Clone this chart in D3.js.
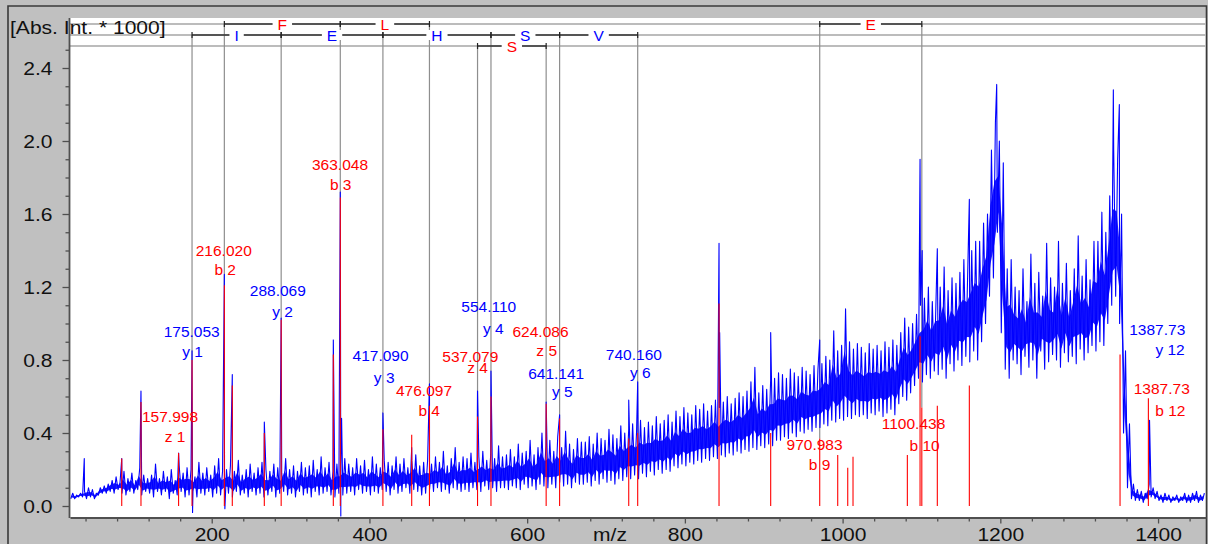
<!DOCTYPE html>
<html>
<head>
<meta charset="utf-8">
<script src="https://cdn.jsdelivr.net/npm/d3@7"></script>
<style>
html, body { margin: 0; padding: 0; background: #c0c0c0; }
svg { display: block; }
text { font-family: "Liberation Sans", Arial, sans-serif; }
</style>
</head>
<body>
<div id="chart"></div>
<script>
// ---- data ----
// profile trace, read as low / high envelope per 5 m/z bin starting at m/z 20
const traceStart = 20, traceStep = 5;
const traceLow = [
  0.04,0.04,0.05,0.05,0.04,0.05,0.04,0.06,0.07,0.07,
  0.08,0.07,0.09,0.07,0.06,0.08,0.07,0.09,0.06,0.08,
  0.07,0.05,0.08,0.06,0.08,0.04,0.07,0.06,0.08,0.05,
  0.06,0.08,0.05,0.07,0.06,0.08,0.05,0.07,0.06,0.08,
  0.07,0.05,0.08,0.06,0.07,0.05,0.08,0.06,0.07,0.05,
  0.06,0.08,0.05,0.07,0.08,0.06,0.07,0.05,0.08,0.06,
  0.07,0.05,0.08,0.06,0.07,0.08,0.06,0.05,0.07,0.06,
  0.07,0.08,0.06,0.09,0.07,0.08,0.06,0.08,0.07,0.09,
  0.08,0.06,0.09,0.07,0.08,0.10,0.07,0.09,0.08,0.06,
  0.07,0.09,0.08,0.10,0.08,0.09,0.07,0.10,0.09,0.08,
  0.09,0.08,0.10,0.09,0.08,0.11,0.09,0.10,0.08,0.10,
  0.10,0.09,0.11,0.10,0.09,0.12,0.10,0.11,0.09,0.12,
  0.11,0.10,0.12,0.10,0.13,0.11,0.12,0.10,0.13,0.12,
  0.12,0.13,0.11,0.14,0.12,0.15,0.13,0.14,0.12,0.15,
  0.14,0.16,0.15,0.17,0.15,0.18,0.16,0.19,0.17,0.20,
  0.18,0.20,0.19,0.22,0.21,0.23,0.22,0.24,0.23,0.25,
  0.24,0.26,0.25,0.27,0.26,0.28,0.27,0.29,0.28,0.30,
  0.29,0.31,0.30,0.32,0.31,0.33,0.32,0.34,0.33,0.36,
  0.36,0.38,0.37,0.40,0.38,0.41,0.40,0.42,0.41,0.43,
  0.43,0.45,0.44,0.47,0.46,0.48,0.47,0.49,0.48,0.50,
  0.49,0.50,0.48,0.51,0.50,0.52,0.49,0.51,0.53,0.50,
  0.56,0.60,0.58,0.62,0.66,0.70,0.68,0.72,0.70,0.74,
  0.72,0.75,0.70,0.78,0.74,0.80,0.77,0.82,0.79,0.85,
  0.80,0.90,1.00,1.15,1.25,1.50,0.95,0.75,0.70,0.80,
  0.78,0.72,0.82,0.76,0.80,0.70,0.85,0.75,0.79,0.83,
  0.80,0.76,0.84,0.79,0.82,0.78,0.86,0.80,0.84,0.88,
  0.85,0.90,0.88,1.00,1.10,1.15,1.00,0.40,0.10,0.04,
  0.03,0.03,0.02,0.04,0.05,0.04,0.03,0.02,0.03,0.02,
  0.03,0.02,0.03,0.02,0.02,0.03,0.02,0.03
];
const traceHigh = [
  0.07,0.06,0.07,0.08,0.10,0.09,0.07,0.10,0.11,0.12,
  0.14,0.16,0.13,0.19,0.15,0.18,0.14,0.21,0.17,0.15,
  0.17,0.23,0.15,0.19,0.16,0.20,0.14,0.22,0.18,0.21,
  0.20,0.16,0.24,0.18,0.21,0.17,0.22,0.26,0.19,0.20,
  0.22,0.19,0.25,0.17,0.20,0.23,0.18,0.21,0.24,0.20,
  0.19,0.23,0.21,0.18,0.26,0.20,0.22,0.19,0.24,0.21,
  0.22,0.25,0.20,0.27,0.21,0.24,0.19,0.23,0.22,0.26,
  0.23,0.21,0.26,0.22,0.25,0.20,0.27,0.23,0.21,0.25,
  0.24,0.22,0.27,0.23,0.26,0.21,0.25,0.28,0.22,0.24,
  0.25,0.23,0.27,0.24,0.30,0.22,0.26,0.32,0.24,0.27,
  0.26,0.29,0.24,0.27,0.30,0.25,0.28,0.26,0.33,0.27,
  0.28,0.31,0.27,0.34,0.29,0.30,0.36,0.28,0.32,0.40,
  0.33,0.36,0.30,0.38,0.32,0.41,0.34,0.31,0.37,0.35,
  0.35,0.38,0.34,0.40,0.37,0.36,0.42,0.39,0.37,0.44,
  0.40,0.42,0.45,0.41,0.47,0.43,0.46,0.44,0.49,0.45,
  0.47,0.50,0.46,0.52,0.49,0.54,0.51,0.50,0.55,0.53,
  0.56,0.52,0.55,0.58,0.54,0.57,0.60,0.56,0.59,0.62,
  0.60,0.63,0.68,0.76,0.62,0.66,0.64,0.69,0.70,0.73,
  0.72,0.70,0.75,0.73,0.71,0.76,0.74,0.72,0.77,0.75,
  0.78,0.82,0.80,0.96,0.85,0.88,1.08,0.90,0.86,0.89,
  0.87,0.84,0.89,0.86,0.88,0.85,0.90,0.87,0.91,0.88,
  0.95,1.03,0.98,1.00,1.05,1.10,1.14,1.20,1.12,1.18,
  1.20,1.31,1.18,1.25,1.22,1.28,1.35,1.30,1.40,1.45,
  1.45,1.55,1.60,1.95,2.10,2.00,1.88,1.30,1.35,1.20,
  1.18,1.30,1.12,1.38,1.22,1.28,1.15,1.44,1.25,1.20,
  1.45,1.22,1.33,1.18,1.30,1.48,1.26,1.35,1.24,1.45,
  1.45,1.61,1.50,1.70,1.95,1.90,1.60,0.85,0.45,0.12,
  0.09,0.08,0.07,0.12,0.10,0.08,0.06,0.07,0.06,0.05,
  0.06,0.05,0.07,0.06,0.07,0.08,0.06,0.07
];
// sharp spikes in the profile [m/z, intensity]
const tracePeaks = [
  [38.4, 0.26], [85.9, 0.26], [110.3, 0.63], [158.0, 0.29], [175.05, 0.85],
  [216.02, 1.27], [226.1, 0.72], [266.7, 0.46], [288.07, 1.03], [354.2, 0.91],
  [363.05, 1.72], [364.7, 0.48], [417.09, 0.51], [453.6, 0.32], [476.1, 0.67],
  [537.08, 0.63], [554.11, 0.74], [624.09, 0.57], [641.14, 0.50], [728.8, 0.58],
  [740.16, 0.68], [843.3, 1.44], [844.1, 0.95], [908.8, 0.95], [970.98, 0.91],
  [1098.2, 1.90], [1100.9, 1.40], [1120.1, 1.41], [1160.7, 1.68], [1195.4, 2.31],
  [1343.3, 2.28], [1350.9, 2.20], [1389.2, 0.47]
];
// negative excursions right after some spikes [m/z, intensity]
const traceDips = [[175.7, -0.035], [216.7, -0.015], [363.7, -0.055]];

// centroid peak list (red sticks)
const stickMz = [85.9, 110.3, 157.998, 175.053, 216.020, 226.1, 266.7, 288.069, 354.2, 363.048,
  417.090, 453.6, 476.097, 537.079, 554.110, 624.086, 641.141, 728.8, 740.160, 843.3,
  908.8, 970.983, 993.8, 1006.5, 1013.2, 1082.1, 1098.2, 1100.438, 1120.1, 1160.7,
  1351.8, 1387.73];
const stickInt = [0.26, 0.57, 0.29, 0.80, 1.21, 0.66, 0.40, 1.02, 0.83, 1.69,
  0.42, 0.39, 0.55, 0.49, 0.60, 0.56, 0.48, 0.37, 0.40, 1.11,
  0.40, 0.37, 0.28, 0.21, 0.27, 0.28, 0.93, 0.54, 0.55, 0.66,
  0.83, 0.59];

// sequence ladders [residue, from m/z, to m/z]
const ladderB = [["F", 216.020, 363.048], ["L", 363.048, 476.097], ["E", 970.983, 1100.438]];
const ladderY = [["I", 175.053, 288.069], ["E", 288.069, 417.090], ["H", 417.090, 554.110],
  ["S", 554.110, 641.141], ["V", 641.141, 740.160]];
const ladderZ = [["S", 537.079, 624.086]];

// peak annotations
const labelMass = ["157.998", "175.053", "216.020", "288.069", "363.048", "417.090", "476.097", "537.079",
  "554.110", "624.086", "641.141", "740.160", "970.983", "1100.438", "1387.73", "1387.73"];
const labelIon = ["z 1", "y 1", "b 2", "y 2", "b 3", "y 3", "b 4", "z 4",
  "y 4", "z 5", "y 5", "y 6", "b 9", "b 10", "y 12", "b 12"];
// label placement in data units: [m/z line 1, int line 1, m/z line 2, int line 2]
const labelAt = [
  [147.1, 0.493, 153.5, 0.384], [174.6, 0.959, 175.6, 0.849], [215.3, 1.398, 217.1, 1.296],
  [283.8, 1.179, 289.8, 1.065], [362.7, 1.871, 363.6, 1.763], [414.1, 0.827, 418.7, 0.704],
  [469.2, 0.631, 475.8, 0.522], [527.9, 0.822, 537.1, 0.762], [551.3, 1.093, 557.1, 0.975],
  [616.9, 0.955, 624.8, 0.850], [636.8, 0.729, 644.5, 0.628], [735.3, 0.833, 743.5, 0.730],
  [964.4, 0.337, 970.7, 0.227], [1089.9, 0.453, 1103.9, 0.330], [1399.0, 0.969, 1415.2, 0.859],
  [1404.7, 0.644, 1415.6, 0.523]
];

// ---- layout ----
var W = 1208, H = 544;
var plot = { left: 70, right: 1206, top: 18, bottom: 517 };
var rowY = [24, 35, 46];
var RED = "#ff0000", BLUE = "#0000ff";
var stretch = 1.17; // axis text is drawn wider than plain Arial

var svg = d3.select("#chart").append("svg")
  .attr("width", W)
  .attr("height", H);

svg.append("rect").attr("width", W).attr("height", H).attr("fill", "#c0c0c0");

svg.append("rect")
  .attr("x", plot.left).attr("y", plot.top)
  .attr("width", plot.right - plot.left).attr("height", plot.bottom - plot.top)
  .attr("fill", "#fff");

svg.append("path")
  .attr("d", "M8," + H + "V6H1206.5V" + H)
  .attr("fill", "none").attr("stroke", "#3a3a3a").attr("stroke-width", 1.6);

var x = d3.scaleLinear().domain([20.3, 1460.8]).range([plot.left, plot.right]);
var y = d3.scaleLinear().domain([0, 2.4]).range([506, 68]);

svg.append("clipPath").attr("id", "clip")
  .append("rect")
  .attr("x", plot.left).attr("y", plot.top)
  .attr("width", plot.right - plot.left).attr("height", plot.bottom - plot.top);

// ladder guide rows
svg.selectAll(".row")
  .data(rowY)
  .enter().append("line")
  .attr("x1", plot.left).attr("x2", plot.right)
  .attr("y1", d => d).attr("y2", d => d)
  .attr("stroke", "#bcbcbc").attr("stroke-width", 2);

function stickTop(mz) {
  var best = 0, dist = 1e9;
  stickMz.forEach(function (m, i) {
    if (Math.abs(m - mz) < dist) { dist = Math.abs(m - mz); best = stickInt[i]; }
  });
  return best;
}

// vertical guides from each ladder ion down to its peak
var ladders = [
  { rows: ladderB, y: rowY[0], color: RED },
  { rows: ladderY, y: rowY[1], color: BLUE },
  { rows: ladderZ, y: rowY[2], color: RED }
];
var guides = [];
ladders.forEach(function (L) {
  L.rows.forEach(function (s) {
    [s[1], s[2]].forEach(function (m) {
      if (!guides.some(g => g.mz === m)) guides.push({ mz: m, y0: L.y });
    });
  });
});

var plotG = svg.append("g").attr("clip-path", "url(#clip)");

plotG.selectAll(".guide")
  .data(guides)
  .enter().append("line")
  .attr("x1", d => x(d.mz)).attr("x2", d => x(d.mz))
  .attr("y1", d => d.y0).attr("y2", d => y(stickTop(d.mz)))
  .attr("stroke", "#8e8e8e").attr("stroke-width", 1.2);

// profile trace: dense core of the noise band, then the trace itself
var bins = traceLow.map((lo, i) => ({ mz: traceStart + (i + 0.5) * traceStep, lo: lo, hi: traceHigh[i] }));

var core = d3.area()
  .x(d => x(d.mz))
  .y0(d => y(d.lo + 0.22 * (d.hi - d.lo)))
  .y1(d => y(d.hi - 0.38 * (d.hi - d.lo)));

plotG.append("path")
  .datum(bins)
  .attr("d", core)
  .attr("fill", BLUE)
  .attr("fill-opacity", 0.9);

var pts = [];
bins.forEach(function (b) {
  pts.push([b.mz - 1.25, b.lo]);
  pts.push([b.mz + 1.25, b.hi]);
});
tracePeaks.forEach(p => pts.push(p));
traceDips.forEach(p => pts.push(p));
pts.sort((a, b) => a[0] - b[0]);

var line = d3.line().x(d => x(d[0])).y(d => y(d[1]));

plotG.append("path")
  .datum(pts)
  .attr("d", line)
  .attr("fill", "none")
  .attr("stroke", BLUE)
  .attr("stroke-width", 1.1)
  .attr("stroke-linejoin", "round");

// centroid sticks
plotG.selectAll(".stick")
  .data(stickMz)
  .enter().append("line")
  .attr("x1", d => x(d)).attr("x2", d => x(d))
  .attr("y1", y(0)).attr("y2", (d, i) => y(stickInt[i]))
  .attr("stroke", RED).attr("stroke-width", 1.1);

// ladders
ladders.forEach(function (L) {
  var g = svg.append("g");
  L.rows.forEach(function (s) {
    var x1 = x(s[1]), x2 = x(s[2]), xm = (x1 + x2) / 2;
    g.append("line").attr("x1", x1).attr("x2", x2).attr("y1", L.y).attr("y2", L.y)
      .attr("stroke", "#333").attr("stroke-width", 1.4);
    [x1, x2].forEach(function (xx) {
      g.append("line").attr("x1", xx).attr("x2", xx).attr("y1", L.y - 3).attr("y2", L.y + 3)
        .attr("stroke", "#222").attr("stroke-width", 1.2);
    });
    var bg = g.append("rect").attr("fill", "#fff");
    var t = g.append("text")
      .attr("x", xm).attr("y", L.y)
      .attr("dy", "0.36em")
      .attr("text-anchor", "middle")
      .attr("font-size", "15.5px")
      .attr("fill", L.color)
      .text(s[0]);
    var w = t.node().getComputedTextLength() + 10;
    bg.attr("x", xm - w / 2).attr("y", L.y - 5).attr("width", w).attr("height", 10);
  });
});

// peak labels
var lab = svg.append("g")
  .attr("font-size", "15.5px")
  .attr("text-anchor", "middle");

labelMass.forEach(function (t, i) {
  var c = labelIon[i].charAt(0) === "y" ? BLUE : RED;
  var p = labelAt[i];
  lab.append("text").attr("x", x(p[0])).attr("y", y(p[1])).attr("dy", "0.36em")
    .attr("fill", c).text(t);
  lab.append("text").attr("x", x(p[2])).attr("y", y(p[3])).attr("dy", "0.36em")
    .attr("fill", c).text(labelIon[i]);
});

// axes
var xAxis = svg.append("g")
  .attr("transform", "translate(0," + (plot.bottom + 0.5) + ")")
  .call(d3.axisBottom(x).tickValues(d3.range(200, 1401, 200)).tickSize(6).tickSizeOuter(0).tickFormat(d3.format("d")));
svg.append("g")
  .attr("transform", "translate(0," + (plot.bottom + 0.5) + ")")
  .call(d3.axisBottom(x).tickValues(d3.range(40, 1460, 40).filter(v => v % 200)).tickSize(4).tickFormat(""))
  .call(g => g.select(".domain").remove())
  .selectAll("line").attr("stroke", "#505050").attr("stroke-width", 1.3);

xAxis.select(".domain").attr("stroke", "#505050").attr("stroke-width", 1.8);
xAxis.selectAll(".tick line").attr("stroke", "#505050").attr("stroke-width", 1.3);
xAxis.selectAll(".tick text")
  .attr("y", 11).attr("dy", "0.71em")
  .attr("font-size", "18px").attr("fill", "#111")
  .attr("font-family", "Liberation Sans, Arial, sans-serif")
  .attr("transform", "scale(" + stretch + ",1)");

var yAxis = svg.append("g")
  .attr("transform", "translate(" + (plot.left - 0.5) + ",0)")
  .call(d3.axisLeft(y).tickValues(d3.range(0, 2.41, 0.4)).tickSize(7).tickFormat(d3.format(".1f")));
svg.append("g")
  .attr("transform", "translate(" + (plot.left - 0.5) + ",0)")
  .call(d3.axisLeft(y).tickValues(d3.range(1, 26).filter(v => v % 4).map(v => v / 10)).tickSize(4).tickFormat(""))
  .call(g => g.select(".domain").remove())
  .selectAll("line").attr("stroke", "#505050").attr("stroke-width", 1.3);

yAxis.select(".domain").remove();
yAxis.selectAll(".tick line").attr("stroke", "#505050").attr("stroke-width", 1.3);
yAxis.selectAll(".tick text")
  .attr("x", -17 / stretch).attr("dy", "0.36em")
  .attr("font-size", "18px").attr("fill", "#111")
  .attr("font-family", "Liberation Sans, Arial, sans-serif")
  .attr("transform", "scale(" + stretch + ",1)");

svg.append("line")
  .attr("x1", plot.left - 0.5).attr("x2", plot.left - 0.5)
  .attr("y1", plot.top).attr("y2", plot.bottom + 1)
  .attr("stroke", "#505050").attr("stroke-width", 1.8);

// titles
svg.append("text")
  .attr("transform", "translate(10,33.5) scale(" + stretch + ",1)")
  .attr("font-size", "18px").attr("fill", "#111")
  .text("[Abs. Int. * 1000]");

svg.append("text")
  .attr("transform", "translate(610," + (plot.bottom + 0.5 + 11 + 12.8) + ") scale(" + stretch + ",1)")
  .attr("text-anchor", "middle")
  .attr("font-size", "18px").attr("fill", "#111")
  .text("m/z");
</script>
</body>
</html>
